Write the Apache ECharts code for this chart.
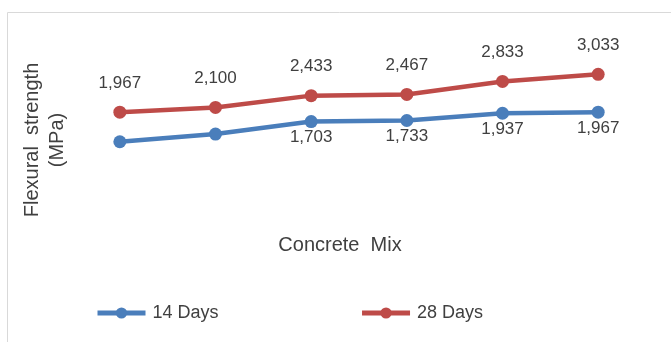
<!DOCTYPE html>
<html>
<head>
<meta charset="utf-8">
<script src="https://cdn.jsdelivr.net/npm/echarts@6/dist/echarts.min.js"></script>
<style>
    html, body { margin: 0; padding: 0; background: #fff; }
    #main { width: 671px; height: 342px; }
</style>
</head>
<body>
<div id="main"></div>
<script>
var mixes = ['Mix 1', 'Mix 2', 'Mix 3', 'Mix 4', 'Mix 5', 'Mix 6'];
var days14 = [1.133, 1.35, 1.703, 1.733, 1.937, 1.967];
var days28 = [1.967, 2.1, 2.433, 2.467, 2.833, 3.033];
// first two 14-day points carry no label in the original
var days14Labelled = [false, false, true, true, true, true];

var font = "'Liberation Sans', Arial, sans-serif";
var textColor = '#404040';

function fmt(v) {
    return v.toFixed(3).replace('.', ',');
}

var chart = echarts.init(document.getElementById('main'));
var option = {
    animation: false,
    textStyle: { fontFamily: font, color: textColor },
    graphic: [
        {
            type: 'rect',
            shape: { x: 7.5, y: 12.5, width: 700, height: 400 },
            style: { fill: 'none', stroke: '#d9d9d9', lineWidth: 1 }
        },
        {
            type: 'text',
            x: 45, y: 140,
            rotation: Math.PI / 2,
            style: {
                text: 'Flexural  strength\n(MPa)',
                font: '20px ' + font,
                fill: textColor,
                align: 'center',
                verticalAlign: 'middle',
                lineHeight: 25
            }
        }
    ],
    legend: {
        left: 90,
        top: 299,
        itemWidth: 48,
        itemHeight: 14,
        itemGap: 141,
        lineStyle: { width: 5 },
        textStyle: { fontSize: 18, color: textColor, fontFamily: font, padding: [0, 0, 0, 2] },
        data: ['14 Days', '28 Days']
    },
    grid: { left: 72, right: 25, top: 40, bottom: 160 },
    xAxis: {
        type: 'category',
        data: mixes,
        boundaryGap: true,
        name: 'Concrete  Mix',
        nameLocation: 'middle',
        nameGap: 53,
        nameTextStyle: { fontSize: 20, color: textColor, fontFamily: font, padding: [0, 38, 0, 0] },
        axisLine: { show: false },
        axisTick: { show: false },
        axisLabel: { show: false }
    },
    yAxis: {
        type: 'value',
        min: 0,
        max: 4,
        show: false,
        splitLine: { show: false }
    },
    series: [
        {
            name: '14 Days',
            type: 'line',
            data: days14.map(function (v, i) {
                return { value: v, label: { show: days14Labelled[i] } };
            }),
            color: '#4a7ebb',
            symbol: 'circle',
            symbolSize: 13,
            lineStyle: { width: 4.5 },
            label: {
                show: true,
                position: 'bottom',
                distance: 1,
                fontSize: 17,
                color: textColor,
                fontFamily: font,
                formatter: function (p) { return fmt(p.value); }
            }
        },
        {
            name: '28 Days',
            type: 'line',
            data: days28,
            color: '#be4b48',
            symbol: 'circle',
            symbolSize: 13,
            lineStyle: { width: 4.5 },
            label: {
                show: true,
                position: 'top',
                distance: 14,
                fontSize: 17,
                color: textColor,
                fontFamily: font,
                formatter: function (p) { return fmt(p.value); }
            }
        }
    ]
};
chart.setOption(option);
</script>
</body>
</html>
